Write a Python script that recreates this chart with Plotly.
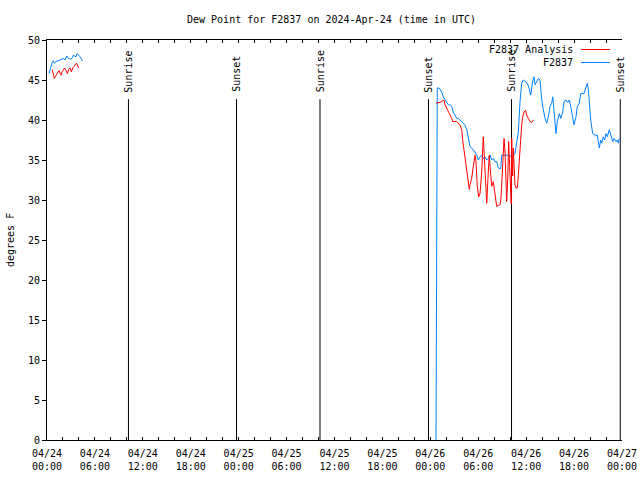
import pandas as pd
import plotly.graph_objects as go

# ---------------- data ----------------
START = "2024-04-24 00:00"

# F2837 observations (hours after start, dew point in F); None = gap
obs_hours = [0.25, 0.38, 0.50, 0.66, 0.79, 0.91, 1.09, 1.21, 1.41, 1.63, 1.84, 2.04, 2.25, 2.47,
             2.67, 2.79, 2.97, 3.13, 3.29, 3.47, 3.63, 3.79, 3.97, 4.13, 4.30, 4.42,
             None,
             48.71, 48.80, 48.87, 49.12, 49.27, 49.42, 49.62, 49.84, 50.05, 50.25, 50.46, 50.68,
             50.88, 51.09, 51.30, 51.50, 51.71, 51.93, 52.13, 52.34, 52.56, 52.76, 52.97, 53.18,
             53.38, 53.59, 53.81, 54.01, 54.22, 54.43, 54.63, 54.85, 55.06, 55.26, 55.47, 55.69,
             55.89, 56.10, 56.31, 56.51, 56.81, 56.94, 57.35, 57.76, 58.19, 58.60, 58.82, 59.02,
             59.23, 59.44, 59.64, 59.85, 60.14, 60.36, 60.57, 60.77, 60.98, 61.11, 61.32, 61.52,
             61.73, 61.95, 62.15, 62.36, 62.57, 62.77, 62.99, 63.20, 63.33, 63.49, 63.61, 63.74,
             63.90, 64.15, 64.33, 64.58, 64.74, 64.99, 65.20, 65.40, 65.58, 65.83, 65.99, 66.24,
             66.40, 66.65, 66.83, 67.24, 67.49, 67.66, 67.79, 67.91, 68.08, 68.33, 68.62, 68.91,
             69.03, 69.16, 69.33, 69.46, 69.66, 69.83, 70.00, 70.16, 70.41, 70.59, 70.84, 71.00,
             71.25, 71.41, 71.54, 71.66]
obs_values = [45.8, 46.3, 46.7, 47.2, 47.4, 47.1, 47.2, 47.4, 47.4, 47.5, 47.6, 47.7, 47.5, 48.0,
              47.7, 47.7, 47.6, 47.7, 48.1, 48.0, 47.9, 48.3, 48.1, 48.0, 47.7, 47.4,
              None,
              0.0, 21.6, 44.0, 44.0, 43.8, 43.5, 42.9, 42.5, 42.2, 41.9, 41.9, 41.7,
              41.0, 40.6, 40.2, 40.2, 40.0, 39.8, 39.6, 39.4, 38.8, 37.5, 36.7, 36.5,
              36.3, 36.0, 35.6, 35.0, 35.4, 35.6, 35.2, 35.4, 35.0, 35.2, 35.6, 35.0,
              35.2, 34.8, 34.8, 34.0, 33.9, 35.6, 35.6, 35.6, 35.4, 35.8, 37.3, 38.5,
              42.3, 44.6, 45.0, 44.8, 44.6, 44.0, 43.1, 44.6, 45.4, 44.4, 44.8, 45.2,
              45.0, 42.5, 41.3, 40.2, 39.6, 40.4, 41.7, 42.1, 42.9, 41.3, 39.6, 38.3,
              39.8, 40.8, 40.2, 41.0, 42.3, 42.5, 42.2, 42.5, 41.7, 40.4, 39.4, 40.4,
              41.7, 42.1, 43.3, 43.3, 44.2, 44.6, 43.8, 41.7, 40.0, 38.3, 38.1, 38.1,
              37.3, 36.5, 37.5, 37.1, 37.9, 37.5, 38.3, 37.9, 38.8, 38.1, 37.3, 37.7,
              37.3, 37.5, 37.1, 37.7]

# F2837 Analysis
ana_hours = [0.66, 0.79, 0.91, 1.04, 1.21, 1.38, 1.50, 1.63, 1.75, 1.88, 2.04, 2.21, 2.38, 2.55,
             2.71, 2.88, 3.05, 3.21, 3.38, 3.55, 3.71, 3.88, 4.00,
             None,
             48.71, 49.21, 49.55, 49.71, 49.84, 50.05, 50.25, 50.46, 50.68, 50.80, 51.30, 51.71,
             51.93, 52.05, 52.25, 52.47, 52.68, 52.88, 52.97, 53.18, 53.38, 53.59, 53.72, 53.88,
             54.06, 54.22, 54.43, 54.63, 54.76, 54.93, 55.06, 55.26, 55.38, 55.56, 55.69, 55.89,
             56.10, 56.31, 56.51, 56.72, 56.85, 56.94, 57.06, 57.14, 57.23, 57.35, 57.48, 57.56,
             57.69, 57.81, 57.94, 58.06, 58.13, 58.19, 58.31, 58.39, 58.48, 58.60, 58.73, 58.89,
             59.02, 59.14, 59.32, 59.44, 59.57, 59.73, 59.94, 60.07, 60.27, 60.48, 60.69, 60.89]
ana_values = [46.3, 45.8, 45.2, 45.4, 45.8, 46.0, 46.2, 45.8, 45.6, 46.0, 46.3, 46.5, 46.2, 45.8,
              46.3, 46.5, 46.0, 46.5, 46.7, 47.0, 47.1, 46.7, 46.5,
              None,
              42.1, 42.2, 42.4, 42.5, 41.9, 41.5, 41.0, 40.8, 40.2, 39.8, 39.8, 39.4,
              38.8, 37.5, 36.0, 34.4, 33.1, 31.3, 31.9, 32.7, 34.2, 35.6, 34.8, 31.7,
              30.4, 30.8, 33.5, 37.9, 35.4, 31.9, 29.6, 33.5, 35.6, 33.1, 31.7, 32.3,
              30.4, 29.2, 29.3, 29.4, 30.2, 31.9, 34.4, 36.7, 37.7, 36.0, 33.1, 29.8,
              32.7, 37.3, 34.0, 31.5, 29.5, 37.7, 33.0, 36.5, 33.0, 31.9, 31.5, 31.5,
              33.1, 35.2, 37.1, 39.4, 40.4, 41.0, 41.2, 40.6, 40.2, 39.8, 39.7, 40.0]

event_labels = ["Sunrise", "Sunset", "Sunrise", "Sunset", "Sunrise", "Sunset"]
event_times = ["2024-04-24 10:12", "2024-04-24 23:44", "2024-04-25 10:11",
               "2024-04-25 23:46", "2024-04-26 10:10", "2024-04-26 23:47"]
event_top = 42.6

series_names = ["F2837 Analysis", "F2837"]
series_colors = ["#ff0000", "#0080ff"]

# ---------------- build ----------------
base = pd.Timestamp(START)


def to_time(hours):
    return [None if h is None else base + pd.Timedelta(hours=h) for h in hours]


FONT = "DejaVu Sans Mono"
FIG_W, FIG_H = 640, 480
ML, MT, PW, PH = 47, 40, 575, 400
fig = go.Figure()

# event lines
ev_x, ev_y = [], []
for t in event_times:
    ev_x += [pd.Timestamp(t), pd.Timestamp(t), None]
    ev_y += [0, event_top, None]
fig.add_trace(go.Scatter(x=ev_x, y=ev_y, mode="lines", line=dict(color="black", width=1),
                         showlegend=False, hoverinfo="skip"))

fig.add_trace(go.Scatter(x=to_time(obs_hours), y=obs_values, mode="lines", name=series_names[1],
                         line=dict(color=series_colors[1], width=1), connectgaps=False))
fig.add_trace(go.Scatter(x=to_time(ana_hours), y=ana_values, mode="lines", name=series_names[0],
                         line=dict(color=series_colors[0], width=1), connectgaps=False))

annotations = []
for lab, t in zip(event_labels, event_times):
    annotations.append(dict(x=pd.Timestamp(t), y=event_top, xref="x", yref="y", text=lab,
                            textangle=-90, showarrow=False, xanchor="center", yanchor="bottom",
                            yshift=5, font=dict(family=FONT, size=10, color="black")))

# manual legend (text left of line sample)
def px(x):
    return (x - ML) / PW
def py(y):
    return (MT + PH - y) / PH

shapes = []
for i, (nm, col) in enumerate(zip(series_names, series_colors)):
    yy = 49.5 + 13 * i
    annotations.append(dict(x=px(575), y=py(yy), xref="paper", yref="paper", text=nm,
                            showarrow=False, xanchor="right", yanchor="middle",
                            font=dict(family=FONT, size=10, color="black")))
    shapes.append(dict(type="line", xref="paper", yref="paper", x0=px(581), x1=px(610),
                       y0=py(yy), y1=py(yy), line=dict(color=col, width=1)))

annotations.append(dict(x=px(10), y=0.5, xref="paper", yref="paper", text="degrees F",
                        textangle=-90, showarrow=False, xanchor="center", yanchor="middle",
                        font=dict(family=FONT, size=10, color="black")))

fig.update_layout(
    width=FIG_W, height=FIG_H, autosize=False,
    margin=dict(l=ML, r=FIG_W - ML - PW, t=MT, b=FIG_H - MT - PH, pad=0, autoexpand=False),
    paper_bgcolor="white", plot_bgcolor="white",
    showlegend=False,
    font=dict(family=FONT, size=10, color="black"),
    title=dict(text="Dew Point for F2837 on 2024-Apr-24 (time in UTC)",
               x=331.5 / FIG_W, xanchor="center", xref="container",
               y=1 - 19 / FIG_H, yanchor="middle", yref="container",
               font=dict(family=FONT, size=10, color="black")),
    xaxis=dict(type="date", range=["2024-04-24 00:00", "2024-04-27 00:00"],
               dtick=6 * 3600 * 1000, tick0="2024-04-24 00:00", tickformat="%m/%d<br>%H:%M",
               ticks="inside", ticklen=3, tickcolor="black", showline=True, linecolor="black",
               linewidth=1, mirror="ticks", showgrid=False, zeroline=False, automargin=False,
               ticklabelstandoff=4,
               minor=dict(dtick=2 * 3600 * 1000, ticks="inside", ticklen=3, tickcolor="black",
                          showgrid=False),
               tickfont=dict(family=FONT, size=10, color="black")),
    yaxis=dict(range=[0, 50], dtick=5, ticks="outside", ticklen=4, tickcolor="black",
               showline=True, linecolor="black", linewidth=1, showgrid=False, zeroline=False,
               automargin=False, tickfont=dict(family=FONT, size=10, color="black")),
    yaxis2=dict(range=[0, 50], dtick=5, overlaying="y", side="right", anchor="x",
                ticks="inside", ticklen=4, tickcolor="black", showticklabels=False,
                showline=False, showgrid=False, zeroline=False, automargin=False),
    annotations=annotations,
    shapes=shapes,
)

# remove the browser's default 8px body margin so the figure sits at the page origin
fig.write_html("out.html",
               config={"displayModeBar": False, "staticPlot": True},
               post_script="document.body.style.margin='0';document.body.style.overflow='hidden';")
